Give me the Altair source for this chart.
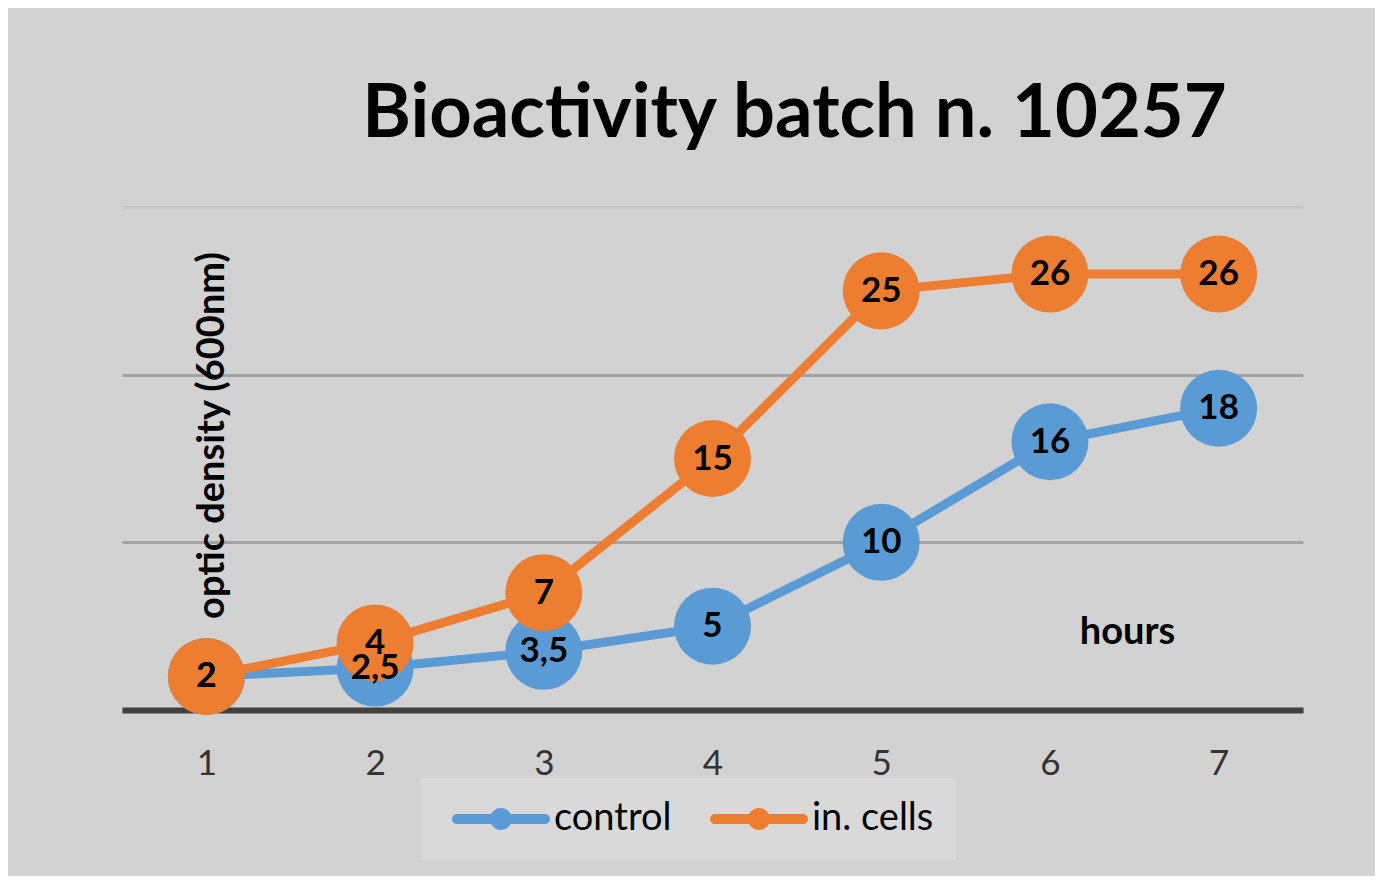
import altair as alt
import pandas as pd

hours = [1, 2, 3, 4, 5, 6, 7]
control = [2, 2.5, 3.5, 5, 10, 16, 18]
cells = [2, 4, 7, 15, 25, 26, 26]
series_names = ["control", "in. cells"]
colors = ["#5b9bd5", "#ed7d31"]
y_ticks = [0, 10, 20, 30]

rows = []
for i, (name, vals) in enumerate(zip(series_names, [control, cells])):
    for h, v in zip(hours, vals):
        rows.append({"hours": h, "value": v, "series": name, "order": i,
                     "label": f"{v:g}".replace(".", ",")})
df = pd.DataFrame(rows)

FONT = "Lato"

x = alt.X("hours:Q",
          scale=alt.Scale(domain=[0.5, 7.5], nice=False, zero=False),
          axis=alt.Axis(values=hours, title="hours", grid=False, ticks=False,
                        domain=True, domainColor="#404040", domainWidth=6,
                        labelFontSize=35, labelFont=FONT, labelColor="#333333",
                        labelPadding=53, labelBaseline="middle",
                        titleX=1005, titleY=-78, titleFontSize=38, titleFont=FONT,
                        titleFontWeight="bold", titleColor="black",
                        titleBaseline="middle", titleAlign="center"))
y = alt.Y("value:Q",
          scale=alt.Scale(domain=[0, 30], nice=False),
          axis=alt.Axis(values=y_ticks, labels=False, ticks=False, domain=False,
                        grid=True,
                        gridColor={"condition": {"test": "datum.value >= 30", "value": "#c6c6c6"},
                                   "value": "#a3a3a3"},
                        gridWidth=3,
                        title="optic density (600nm)", titleX=90, titleY=228,
                        titleAngle=270, titleAlign="center", titleBaseline="middle",
                        titleFontSize=38, titleFont=FONT, titleFontWeight="bold",
                        titleColor="black"))

# legend symbol: thick line with round caps and a dot in the middle
legend_path = ("M-0.5,-0.5L8.3,-0.5A0.5,0.5 0 0,1 8.3,0.5L-0.5,0.5A0.5,0.5 0 0,1 -0.5,-0.5Z "
               "M5.0,0A1.1,1.1 0 1,1 2.8,0A1.1,1.1 0 1,1 5.0,0Z")
legend = alt.Legend(title=None, orient="none", legendX=299, legendY=571,
                    direction="horizontal", fillColor="#d9d9d9",
                    padding=22, labelFontSize=38, labelFont=FONT,
                    labelColor="black", columnPadding=29,
                    labelOffset=73, symbolType=legend_path,
                    symbolSize=400, symbolStrokeWidth=0)
color = alt.Color("series:N", scale=alt.Scale(domain=series_names, range=colors),
                  legend=legend)

base = alt.Chart(df)

lines = base.mark_line(strokeWidth=9).encode(
    x=x, y=y, color=color, order="hours:Q",
)

points = base.mark_point(filled=True, size=5929, opacity=1).encode(
    x=x, y=y, color=color, order="order:Q",
)

labels = base.mark_text(font=FONT, fontSize=35, fontWeight="bold", color="black",
                        baseline="middle", align="center").encode(
    x=x, y=y, text="label:N")

chart = alt.layer(lines, points, labels).properties(
    width=1181, height=503,
    padding={"left": 114, "top": 199, "right": 72, "bottom": 166},
    autosize=alt.AutoSizeParams(type="none"),
    background="#d2d2d2",
    title=alt.Title("Bioactivity batch n. 10257", fontSize=74, font=FONT,
                    fontWeight="bold", color="black", anchor="middle", dx=82,
                    offset=-4, baseline="alphabetic"),
).configure_view(strokeWidth=0)

chart.save("out.html", embed_options={"renderer": "svg", "actions": False})
